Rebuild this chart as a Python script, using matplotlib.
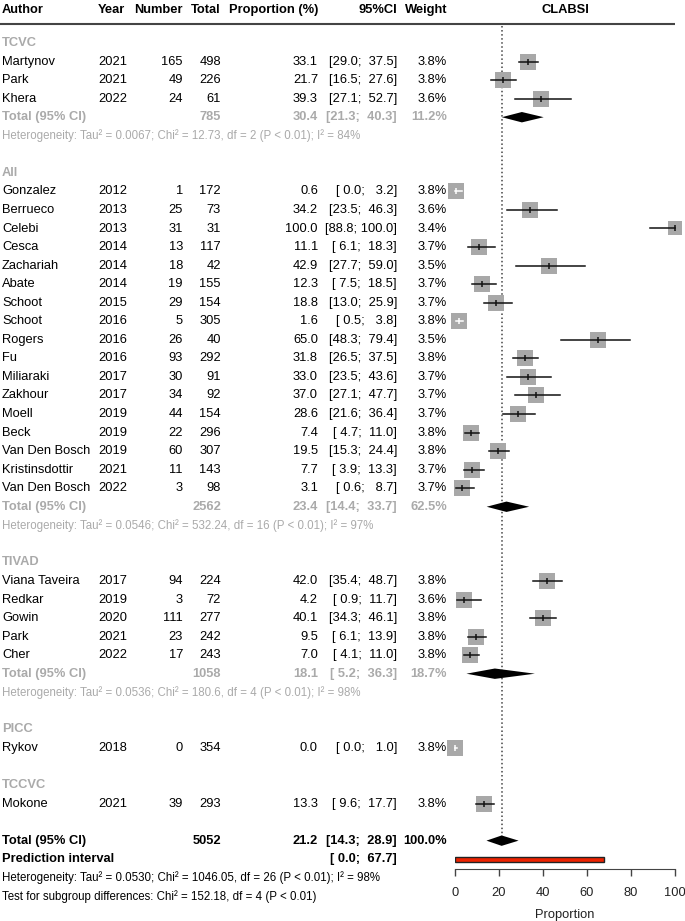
import numpy as np
import matplotlib.pyplot as plt

plt.rcParams['font.family'] = ['Liberation Sans', 'DejaVu Sans']

# study level data
groups = ['TCVC', 'All', 'TIVAD', 'PICC', 'TCCVC']
group_of = ['TCVC'] * 3 + ['All'] * 17 + ['TIVAD'] * 5 + ['PICC', 'TCCVC']
authors = ['Martynov', 'Park', 'Khera',
           'Gonzalez', 'Berrueco', 'Celebi', 'Cesca', 'Zachariah', 'Abate', 'Schoot',
           'Schoot', 'Rogers', 'Fu', 'Miliaraki', 'Zakhour', 'Moell', 'Beck',
           'Van Den Bosch', 'Kristinsdottir', 'Van Den Bosch',
           'Viana Taveira', 'Redkar', 'Gowin', 'Park', 'Cher',
           'Rykov', 'Mokone']
years = [2021, 2021, 2022,
         2012, 2013, 2013, 2014, 2014, 2014, 2015, 2016, 2016, 2016, 2017, 2017,
         2019, 2019, 2019, 2021, 2022,
         2017, 2019, 2020, 2021, 2022,
         2018, 2021]
events = [165, 49, 24,
          1, 25, 31, 13, 18, 19, 29, 5, 26, 93, 30, 34, 44, 22, 60, 11, 3,
          94, 3, 111, 23, 17,
          0, 39]
totals = [498, 226, 61,
          172, 73, 31, 117, 42, 155, 154, 305, 40, 292, 91, 92, 154, 296, 307, 143, 98,
          224, 72, 277, 242, 243,
          354, 293]
prop = [33.1, 21.7, 39.3,
        0.6, 34.2, 100.0, 11.1, 42.9, 12.3, 18.8, 1.6, 65.0, 31.8, 33.0, 37.0,
        28.6, 7.4, 19.5, 7.7, 3.1,
        42.0, 4.2, 40.1, 9.5, 7.0,
        0.0, 13.3]
lower = [29.0, 16.5, 27.1,
         0.0, 23.5, 88.8, 6.1, 27.7, 7.5, 13.0, 0.5, 48.3, 26.5, 23.5, 27.1,
         21.6, 4.7, 15.3, 3.9, 0.6,
         35.4, 0.9, 34.3, 6.1, 4.1,
         0.0, 9.6]
upper = [37.5, 27.6, 52.7,
         3.2, 46.3, 100.0, 18.3, 59.0, 18.5, 25.9, 3.8, 79.4, 37.5, 43.6, 47.7,
         36.4, 11.0, 24.4, 13.3, 8.7,
         48.7, 11.7, 46.1, 13.9, 11.0,
         1.0, 17.7]
weight = [3.8, 3.8, 3.6,
          3.8, 3.6, 3.4, 3.7, 3.5, 3.7, 3.7, 3.8, 3.5, 3.8, 3.7, 3.7, 3.7, 3.8,
          3.8, 3.7, 3.7,
          3.8, 3.6, 3.8, 3.8, 3.8,
          3.8, 3.8]

# subgroup summaries (only groups with more than one study)
sub_total = {'TCVC': 785, 'All': 2562, 'TIVAD': 1058}
sub_prop = {'TCVC': 30.4, 'All': 23.4, 'TIVAD': 18.1}
sub_lower = {'TCVC': 21.3, 'All': 14.4, 'TIVAD': 5.2}
sub_upper = {'TCVC': 40.3, 'All': 33.7, 'TIVAD': 36.3}
sub_weight = {'TCVC': 11.2, 'All': 62.5, 'TIVAD': 18.7}
sub_het = {'TCVC': 'Tau² = 0.0067; Chi² = 12.73, df = 2 (P < 0.01); I² = 84%',
           'All': 'Tau² = 0.0546; Chi² = 532.24, df = 16 (P < 0.01); I² = 97%',
           'TIVAD': 'Tau² = 0.0536; Chi² = 180.6, df = 4 (P < 0.01); I² = 98%'}

# overall
all_total = 5052
all_prop, all_lower, all_upper = 21.2, 14.3, 28.9
pred_lower, pred_upper = 0.0, 67.7
all_het = 'Heterogeneity: Tau² = 0.0530; Chi² = 1046.05, df = 26 (P < 0.01); I² = 98%'
sub_test = 'Test for subgroup differences: Chi² = 152.18, df = 4 (P < 0.01)'

GREY = '#aaaaaa'
SQ = '#a8a8a8'
FS = 9.3
FS_SMALL = 8.3


def ci_text(lo, hi):
    return '[%4.1f; %5.1f]' % (lo, hi)


W, H = 685, 921
y0, dy = 43, 18.55
ax_bottom_px = 869
ylims = ((ax_bottom_px - y0) / dy, -y0 / dy)

fig = plt.figure(figsize=(W / 100, H / 100), dpi=100)
pos_b = (H - ax_bottom_px) / H
tab = fig.add_axes([0, pos_b, 1, ax_bottom_px / H])
tab.set_xlim(0, W)
tab.set_ylim(*ylims)
tab.axis('off')

fp = fig.add_axes([455 / W, pos_b, 220 / W, ax_bottom_px / H])
fp.set_xlim(0, 100)
fp.set_ylim(*ylims)
fp.patch.set_visible(False)
for s in ['top', 'left', 'right']:
    fp.spines[s].set_visible(False)
fp.spines['bottom'].set_color('#444444')
fp.set_yticks([])
fp.set_xticks(np.arange(0, 101, 20))
fp.tick_params(axis='x', length=5, width=1, color='#444444', labelsize=FS, pad=8, labelcolor='#222222')
fp.set_xlabel('Proportion', fontsize=FS, labelpad=7, color='#222222')

# column x positions (pixels)
X_AUTH, X_YEAR, X_NUM, X_TOT, X_PROP, X_CI, X_W = 2, 98, 183, 221, 318, 397, 447


def row_text(r, vals, color='black', weight='normal'):
    a, yr, n, t, p, ci, w = vals
    kw = dict(va='center', fontsize=FS, color=color, fontweight=weight)
    tab.text(X_AUTH, r, a, ha='left', **kw)
    tab.text(X_YEAR, r, yr, ha='left', **kw)
    tab.text(X_NUM, r, n, ha='right', **kw)
    tab.text(X_TOT, r, t, ha='right', **kw)
    tab.text(X_PROP, r, p, ha='right', **kw)
    tab.text(X_CI, r, ci, ha='right', **kw)
    tab.text(X_W, r, w, ha='right', **kw)


# header
hr = (10 - y0) / dy
hk = dict(va='center', fontsize=FS, fontweight='bold')
tab.text(X_AUTH, hr, 'Author', ha='left', **hk)
tab.text(X_YEAR, hr, 'Year', ha='left', **hk)
tab.text(X_NUM, hr, 'Number', ha='right', **hk)
tab.text(X_TOT, hr, 'Total', ha='right', **hk)
tab.text(X_PROP, hr, 'Proportion (%)', ha='right', **hk)
tab.text(X_CI, hr, '95%CI', ha='right', **hk)
tab.text(X_W, hr, 'Weight', ha='right', **hk)
fp.text(50, hr, 'CLABSI', ha='center', **hk)
line_r = (24 - y0) / dy
tab.plot([0, 675], [line_r, line_r], color='#444444', lw=1.5, solid_capstyle='butt')

px_per_unit = 220 / 100
sq_side = 15.8  # px for 3.8% weight

r = 0
for g in groups:
    tab.text(X_AUTH, r, g, ha='left', va='center', fontsize=FS, color=GREY, fontweight='bold')
    r += 1
    idx = [i for i, gg in enumerate(group_of) if gg == g]
    for i in idx:
        row_text(r, (authors[i], str(years[i]), str(events[i]), str(totals[i]),
                     '%.1f' % prop[i], ci_text(lower[i], upper[i]), '%.1f%%' % weight[i]))
        side = sq_side * np.sqrt(weight[i] / 3.8)
        half = side / 2 / px_per_unit
        inside = lower[i] >= prop[i] - half and upper[i] <= prop[i] + half
        lc = 'white' if inside else '#111111'
        fp.plot(prop[i], r, marker='s', markersize=side * 0.72, color=SQ,
                markeredgewidth=0, clip_on=False, zorder=2)
        fp.plot([lower[i], upper[i]], [r, r], color=lc, lw=1.1, clip_on=False, zorder=3)
        fp.plot(prop[i], r, marker='|', markersize=4.5, color=lc, markeredgewidth=1.1,
                clip_on=False, zorder=3)
        r += 1
    if g in sub_total:
        row_text(r, ('Total (95% CI)', '', '', str(sub_total[g]), '%.1f' % sub_prop[g],
                     ci_text(sub_lower[g], sub_upper[g]), '%.1f%%' % sub_weight[g]),
                 color=GREY, weight='bold')
        h = 0.28
        fp.fill([sub_lower[g], sub_prop[g], sub_upper[g], sub_prop[g]],
                [r, r - h, r, r + h], color='black', lw=0, zorder=3)
        r += 1
        tab.text(X_AUTH, r, 'Heterogeneity: ' + sub_het[g], ha='left', va='center',
                 fontsize=FS_SMALL, color=GREY)
        r += 1
    r += 1

# overall
row_text(r, ('Total (95% CI)', '', '', str(all_total), '%.1f' % all_prop,
             ci_text(all_lower, all_upper), '100.0%'), weight='bold')
h = 0.28
fp.fill([all_lower, all_prop, all_upper, all_prop], [r, r - h, r, r + h],
        color='black', lw=0, zorder=3)
fp.plot([all_prop, all_prop], [line_r + 0.12, r], ls=':', color='#444444', lw=1.1, zorder=1)
r += 1
tab.text(X_AUTH, r, 'Prediction interval', ha='left', va='center', fontsize=FS, fontweight='bold')
tab.text(X_CI, r, ci_text(pred_lower, pred_upper), ha='right', va='center', fontsize=FS,
         fontweight='bold')
fp.barh(r, pred_upper - pred_lower, left=pred_lower, height=0.28, color='#ee2200',
        edgecolor='#222222', lw=1, zorder=3)
r += 1
tab.text(X_AUTH, r, all_het, ha='left', va='center', fontsize=FS_SMALL)
r += 1
tab.text(X_AUTH, r, sub_test, ha='left', va='center', fontsize=FS_SMALL)

fig.savefig('out.png', dpi=100)
